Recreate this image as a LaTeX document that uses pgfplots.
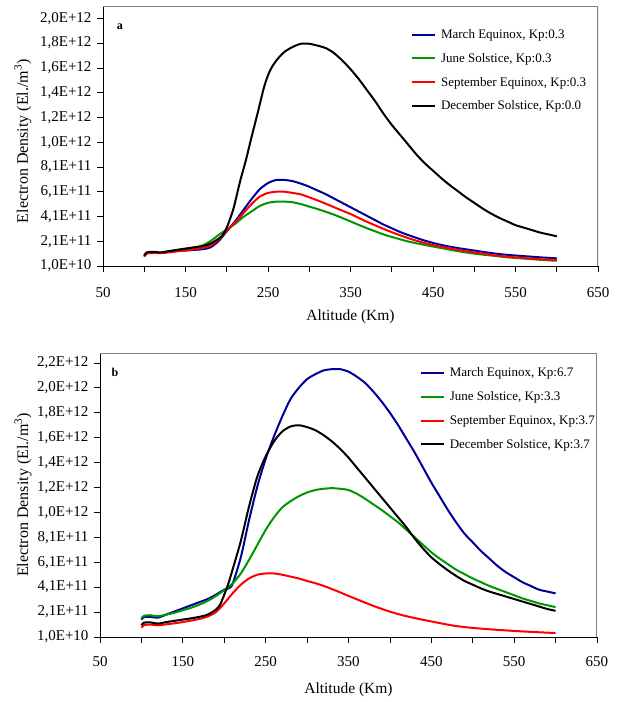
\documentclass[border=0pt]{standalone}
\usepackage{pgfplots}
\pgfplotsset{compat=1.18}
\usepackage{fontspec}
\setmainfont{Liberation Serif}
\definecolor{cblue}{RGB}{0,0,150}
\definecolor{cgreen}{RGB}{0,150,0}
\definecolor{cred}{RGB}{255,0,0}
\definecolor{frame}{RGB}{128,128,128}

\pgfplotsset{
  common/.style={
    scale only axis,
    axis lines=left,
    axis line style={-, line width=1pt},
    every outer x axis line/.append style={-},
    every outer y axis line/.append style={-},
    tick align=outside,
    major tick length=6pt,
    tick style={black, line width=0.8pt},
    xmin=50, xmax=650,
    xtick={50,100,...,650},
    xticklabels={50,,150,,250,,350,,450,,550,,650},
    ymin=1e10,
    scaled y ticks=false,
    scaled x ticks=false,
    ticklabel style={font=\fontsize{15}{17}\selectfont},
    yticklabel style={xshift=-2pt},
    every axis y label/.style={rotate=90, anchor=center, font=\fontsize{16}{18}\selectfont},
    every axis x label/.style={anchor=center, font=\fontsize{15.5}{18}\selectfont},
    xlabel={Altitude (Km)},
    ylabel={Electron Density (El./m\textsuperscript{3})},
    legend cell align=left,
    legend style={draw=none, fill=none, inner sep=0pt, row sep=9.3pt,
      font=\fontsize{13}{15}\selectfont, anchor=north west},
    legend image code/.code={\draw[#1] (0pt,0pt) -- (23pt,0pt); \path (26pt,0pt);},
    every axis plot/.append style={line width=2pt, line join=round, smooth, tension=0.45},
  }
}

\begin{document}
\begin{tikzpicture}
% ---------------- panel a ----------------
\begin{axis}[common,
  width=495pt, height=260pt,
  at={(103pt,-266pt)}, anchor=south west,
  ymax=2.11e12,
  ytick={1e10,2.1e11,4.1e11,6.1e11,8.1e11,1.01e12,1.21e12,1.41e12,1.61e12,1.81e12,2.01e12},
  yticklabels={{1,0E+10},{2,1E+11},{4,1E+11},{6,1E+11},{8,1E+11},{1,0E+12},{1,2E+12},{1,4E+12},{1,6E+12},{1,8E+12},{2,0E+12}},
  xticklabel style={yshift=-12pt},
  xlabel style={at={(axis description cs:0.5,0)}, yshift=-51pt},
  ylabel style={at={(axis description cs:-0.162,0.48)}},
  legend style={at={(rel axis cs:0.622,0.9185)}},
]
\addplot[cblue] coordinates {
(100,0.95e11)(103,1.15e11)(110,1.2e11)(120,1.15e11)(130,1.25e11)(140,1.3e11)(150,1.35e11)(160,1.4e11)(170,1.45e11)(180,1.6e11)(190,2.1e11)(200,2.9e11)(210,3.7e11)(220,4.6e11)(230,5.5e11)(240,6.3e11)(250,6.8e11)(260,7.05e11)(270,7.05e11)(280,6.95e11)(290,6.75e11)(300,6.5e11)(310,6.2e11)(320,5.9e11)(330,5.55e11)(340,5.2e11)(350,4.85e11)(360,4.5e11)(370,4.15e11)(380,3.8e11)(390,3.45e11)(400,3.15e11)(410,2.85e11)(420,2.6e11)(440,2.15e11)(460,1.8e11)(480,1.55e11)(500,1.35e11)(520,1.15e11)(540,1.0e11)(560,0.9e11)(580,0.8e11)(600,0.72e11)};
\addlegendentry{March Equinox, Kp:0.3}
\addplot[cgreen] coordinates {
(100,0.9e11)(103,1.15e11)(110,1.2e11)(120,1.15e11)(130,1.3e11)(140,1.4e11)(150,1.5e11)(160,1.6e11)(170,1.75e11)(180,2.1e11)(190,2.6e11)(200,3.05e11)(210,3.5e11)(220,4.05e11)(230,4.5e11)(240,4.95e11)(250,5.2e11)(260,5.3e11)(270,5.3e11)(280,5.25e11)(290,5.1e11)(300,4.9e11)(310,4.7e11)(320,4.48e11)(330,4.25e11)(340,3.98e11)(350,3.7e11)(360,3.42e11)(370,3.15e11)(380,2.9e11)(390,2.65e11)(400,2.45e11)(420,2.08e11)(440,1.8e11)(460,1.55e11)(480,1.3e11)(500,1.1e11)(520,0.95e11)(540,0.8e11)(560,0.7e11)(580,0.6e11)(600,0.52e11)};
\addlegendentry{June Solstice, Kp:0.3}
\addplot[cred] coordinates {
(100,0.85e11)(103,1.1e11)(110,1.15e11)(120,1.15e11)(130,1.2e11)(140,1.3e11)(150,1.35e11)(160,1.45e11)(170,1.55e11)(180,1.75e11)(190,2.2e11)(200,2.95e11)(210,3.6e11)(220,4.35e11)(230,5.1e11)(240,5.7e11)(250,6.0e11)(260,6.1e11)(270,6.1e11)(280,6.0e11)(290,5.88e11)(300,5.65e11)(310,5.4e11)(320,5.13e11)(330,4.85e11)(340,4.57e11)(350,4.3e11)(360,3.98e11)(370,3.67e11)(380,3.38e11)(390,3.1e11)(400,2.83e11)(420,2.35e11)(440,1.95e11)(460,1.65e11)(480,1.4e11)(500,1.2e11)(520,1.0e11)(540,0.85e11)(560,0.75e11)(580,0.65e11)(600,0.58e11)};
\addlegendentry{September Equinox, Kp:0.3}
\addplot[black] coordinates {
(100,0.95e11)(103,1.2e11)(110,1.25e11)(120,1.2e11)(130,1.3e11)(140,1.4e11)(150,1.5e11)(160,1.6e11)(170,1.7e11)(180,1.9e11)(190,2.3e11)(195,2.6e11)(200,3.2e11)(208,4.7e11)(216,6.9e11)(223,8.6e11)(230,1.05e12)(238,1.26e12)(245,1.45e12)(250,1.55e12)(255,1.62e12)(262,1.685e12)(270,1.74e12)(280,1.78e12)(290,1.805e12)(300,1.805e12)(310,1.79e12)(320,1.77e12)(330,1.73e12)(340,1.67e12)(350,1.60e12)(360,1.52e12)(370,1.43e12)(380,1.34e12)(390,1.24e12)(400,1.15e12)(410,1.07e12)(420,0.99e12)(430,0.91e12)(440,0.84e12)(450,0.78e12)(460,0.72e12)(470,0.665e12)(480,0.615e12)(490,0.565e12)(500,0.52e12)(510,0.475e12)(520,0.435e12)(530,0.40e12)(540,0.37e12)(550,0.34e12)(560,0.32e12)(570,0.30e12)(580,0.28e12)(590,0.265e12)(600,0.25e12)};
\addlegendentry{December Solstice, Kp:0.0}
\draw[frame, line width=1.2pt] (rel axis cs:0,1) -- (rel axis cs:1,1) -- (rel axis cs:1,0);
\node[font=\fontsize{12}{14}\selectfont\bfseries] at (rel axis cs:0.034,0.919) {a};
\end{axis}

% ---------------- panel b ----------------
\begin{axis}[common,
  width=497pt, height=284pt,
  at={(100pt,-637pt)}, anchor=south west,
  ymax=2.29e12,
  ytick={1e10,2.1e11,4.1e11,6.1e11,8.1e11,1.01e12,1.21e12,1.41e12,1.61e12,1.81e12,2.01e12,2.21e12},
  yticklabels={{1,0E+10},{2,1E+11},{4,1E+11},{6,1E+11},{8,1E+11},{1,0E+12},{1,2E+12},{1,4E+12},{1,6E+12},{1,8E+12},{2,0E+12},{2,2E+12}},
  xticklabel style={yshift=-10pt},
  xlabel style={at={(axis description cs:0.5,0)}, yshift=-53pt},
  ylabel style={at={(axis description cs:-0.155,0.5)}},
  legend style={at={(rel axis cs:0.643,0.956), row sep=8.6pt}},
]
\addplot[cblue] coordinates {
(100,1.5e11)(103,1.7e11)(110,1.72e11)(120,1.66e11)(130,1.9e11)(140,2.15e11)(150,2.4e11)(160,2.65e11)(170,2.9e11)(180,3.15e11)(190,3.5e11)(200,3.9e11)(205,4.0e11)(210,4.35e11)(220,6.5e11)(230,9.5e11)(240,1.22e12)(250,1.44e12)(260,1.62e12)(270,1.78e12)(280,1.92e12)(290,2.01e12)(300,2.08e12)(310,2.12e12)(320,2.15e12)(330,2.16e12)(340,2.16e12)(350,2.14e12)(360,2.10e12)(370,2.05e12)(380,1.98e12)(390,1.90e12)(400,1.81e12)(410,1.71e12)(420,1.60e12)(430,1.49e12)(440,1.37e12)(450,1.25e12)(460,1.14e12)(470,1.03e12)(480,0.93e12)(490,0.84e12)(500,0.77e12)(510,0.70e12)(520,0.64e12)(530,0.58e12)(540,0.53e12)(550,0.49e12)(560,0.45e12)(570,0.42e12)(580,0.39e12)(590,0.375e12)(600,0.36e12)};
\addlegendentry{March Equinox, Kp:6.7}
\addplot[cgreen] coordinates {
(100,1.6e11)(103,1.8e11)(110,1.85e11)(120,1.77e11)(130,1.9e11)(140,2.05e11)(150,2.25e11)(160,2.45e11)(170,2.7e11)(180,3.0e11)(190,3.4e11)(200,3.86e11)(210,4.4e11)(220,5.2e11)(230,6.3e11)(240,7.5e11)(250,8.7e11)(260,9.7e11)(270,1.05e12)(280,1.10e12)(290,1.14e12)(300,1.17e12)(310,1.19e12)(320,1.20e12)(330,1.205e12)(340,1.20e12)(350,1.19e12)(360,1.16e12)(370,1.12e12)(380,1.075e12)(390,1.03e12)(400,0.98e12)(410,0.93e12)(420,0.87e12)(430,0.81e12)(440,0.75e12)(450,0.69e12)(460,0.64e12)(470,0.595e12)(480,0.55e12)(490,0.515e12)(500,0.48e12)(510,0.45e12)(520,0.42e12)(530,0.395e12)(540,0.37e12)(550,0.345e12)(560,0.32e12)(570,0.30e12)(580,0.28e12)(590,0.265e12)(600,0.25e12)};
\addlegendentry{June Solstice, Kp:3.3}
\addplot[cred] coordinates {
(100,0.85e11)(103,1.05e11)(110,1.1e11)(120,1.04e11)(130,1.12e11)(140,1.2e11)(150,1.3e11)(160,1.42e11)(170,1.55e11)(180,1.75e11)(190,2.1e11)(200,2.8e11)(210,3.6e11)(220,4.3e11)(230,4.8e11)(240,5.1e11)(250,5.2e11)(260,5.2e11)(270,5.1e11)(280,4.95e11)(290,4.8e11)(300,4.6e11)(310,4.42e11)(320,4.2e11)(330,3.95e11)(340,3.68e11)(350,3.4e11)(360,3.13e11)(370,2.86e11)(380,2.6e11)(390,2.36e11)(400,2.14e11)(410,1.94e11)(420,1.77e11)(430,1.62e11)(440,1.48e11)(450,1.35e11)(460,1.22e11)(470,1.09e11)(480,0.98e11)(490,0.9e11)(500,0.83e11)(520,0.72e11)(540,0.63e11)(560,0.55e11)(580,0.48e11)(600,0.42e11)};
\addlegendentry{September Equinox, Kp:3.7}
\addplot[black] coordinates {
(100,1.05e11)(103,1.25e11)(110,1.28e11)(120,1.18e11)(130,1.3e11)(140,1.4e11)(150,1.5e11)(160,1.6e11)(170,1.72e11)(180,1.9e11)(190,2.3e11)(195,2.7e11)(200,3.5e11)(205,4.4e11)(210,5.5e11)(220,7.8e11)(230,1.06e12)(240,1.3e12)(250,1.46e12)(260,1.58e12)(270,1.66e12)(280,1.70e12)(290,1.71e12)(300,1.695e12)(310,1.67e12)(320,1.63e12)(330,1.58e12)(340,1.52e12)(350,1.45e12)(360,1.37e12)(370,1.29e12)(380,1.21e12)(390,1.13e12)(400,1.05e12)(410,0.97e12)(420,0.89e12)(430,0.80e12)(440,0.72e12)(450,0.65e12)(460,0.595e12)(470,0.545e12)(480,0.50e12)(490,0.46e12)(500,0.43e12)(510,0.40e12)(520,0.375e12)(530,0.355e12)(540,0.335e12)(550,0.315e12)(560,0.295e12)(570,0.275e12)(580,0.255e12)(590,0.235e12)(600,0.22e12)};
\addlegendentry{December Solstice, Kp:3.7}
\draw[frame, line width=1.2pt] (rel axis cs:0,1) -- (rel axis cs:1,1) -- (rel axis cs:1,0);
\node[font=\fontsize{12}{14}\selectfont\bfseries] at (rel axis cs:0.03,0.933) {b};
\end{axis}
\pgfresetboundingbox
\useasboundingbox (0pt,0pt) rectangle (621pt,-702pt);
\end{tikzpicture}
\end{document}
